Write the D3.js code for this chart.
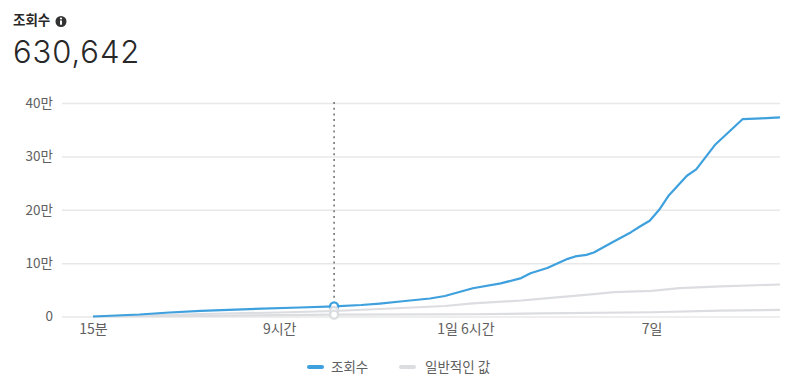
<!DOCTYPE html>
<html>
<head>
<meta charset="utf-8">
<script src="https://cdn.jsdelivr.net/npm/d3@7"></script>
<style>
  html, body { margin: 0; padding: 0; background: #fff; }
  svg { display: block; }
  text { font-family: "Noto Sans CJK KR", "Noto Sans", sans-serif; }
</style>
</head>
<body>
<svg id="chart" width="799" height="380"></svg>
<script>
// x positions are in tick steps: 0 = 15분, 1 = 9시간, 2 = 1일 6시간, 3 = 7일
const tickLabels = ["15분", "9시간", "1일 6시간", "7일"];
const yTicks = [0, 100000, 200000, 300000, 400000];
const yTickLabels = ["0", "10만", "20만", "30만", "40만"];

const viewsPos = [0, .25, .41, .58, .84, 1.11, 1.295, 1.44, 1.54, 1.65, 1.81, 1.89, 2.04, 2.19, 2.30, 2.35, 2.44, 2.55, 2.59, 2.65, 2.69, 2.80, 2.89, 2.94, 2.99, 3.04, 3.09, 3.19, 3.24, 3.34, 3.49, 3.59, 3.69];
const views = [0, 3700, 7500, 10700, 14000, 16900, 19000, 21500, 24300, 28100, 33700, 38400, 53000, 62000, 72000, 81000, 90800, 108000, 112500, 115500, 120000, 141000, 158000, 169000, 179400, 199500, 225700, 263700, 275700, 321200, 369900, 371200, 373100];

const typicalHighPos = [0, .58, 1.0, 1.295, 1.60, 1.89, 2.04, 2.30, 2.40, 2.69, 2.80, 3.0, 3.15, 3.37, 3.69];
const typicalHigh = [0, 4700, 7500, 10300, 15000, 19700, 24500, 30000, 33000, 42000, 45500, 48000, 53000, 56500, 60000];

const typicalLowPos = [0, .58, 1.295, 2.04, 2.40, 3.0, 3.37, 3.69];
const typicalLow = [0, 1000, 3500, 4200, 5800, 8000, 11000, 12500];

const hoverPos = 1.295;
const hoverValues = [19000, 10300, 3500];

const blue = "#3ea0dd", gray = "#dcdde1";
const svg = d3.select("#chart");

const x = d3.scaleLinear().domain([0, 3.69]).range([93, 780]);
const y = d3.scaleLinear().domain([0, 400000]).range([316.5, 103]);

// header
svg.append("text").attr("x", 13).attr("y", 25)
  .attr("font-size", 13.5).attr("font-weight", 700).attr("fill", "#282828").text("조회수");
const info = svg.append("g").attr("transform", "translate(61,21.5)");
info.append("circle").attr("r", 5.5).attr("fill", "#333");
info.append("rect").attr("x", -1).attr("y", -1).attr("width", 2).attr("height", 4.2).attr("fill", "#fff");
info.append("circle").attr("cy", -3).attr("r", 1.1).attr("fill", "#fff");
svg.append("text").attr("x", 13).attr("y", 63)
  .attr("font-size", 31).attr("font-weight", 300).attr("letter-spacing", 0.9).attr("fill", "#282828")
  .style("font-family", "Inter, sans-serif").text("630,642");

// y axis + grid
const yAxis = svg.append("g").attr("transform", "translate(62,0)")
  .call(d3.axisLeft(y).tickValues(yTicks).tickSize(0).tickPadding(9)
    .tickFormat((d, i) => yTickLabels[i]));
yAxis.select(".domain").remove();
yAxis.selectAll("text").attr("font-size", 13.5).attr("fill", "#606060")
  .style("font-family", "\"Noto Sans CJK KR\", sans-serif");
yAxis.selectAll(".tick line").attr("x2", 718).attr("stroke", "#e8e8e8").attr("stroke-width", 1.5);

// x axis
const xAxis = svg.append("g").attr("transform", "translate(0,316.5)")
  .call(d3.axisBottom(x).tickValues([0, 1, 2, 3]).tickSize(0).tickPadding(8)
    .tickFormat((d, i) => tickLabels[i]));
xAxis.select(".domain").remove();
xAxis.selectAll("text").attr("font-size", 14).attr("fill", "#606060")
  .style("font-family", "\"Noto Sans CJK KR\", sans-serif");

// hover line
svg.append("line")
  .attr("x1", x(hoverPos)).attr("x2", x(hoverPos))
  .attr("y1", 102).attr("y2", y(hoverValues[0]) - 5)
  .attr("stroke", "#777").attr("stroke-width", 1.6).attr("stroke-dasharray", "2 3.7");

const line = d3.line().x(d => x(d[0])).y(d => y(d[1]));

[[typicalLowPos, typicalLow], [typicalHighPos, typicalHigh]].forEach(s => {
  svg.append("path").datum(d3.zip(s[0], s[1]))
    .attr("fill", "none").attr("stroke", gray).attr("stroke-width", 2.2)
    .attr("d", line);
});
svg.append("path").datum(d3.zip(viewsPos, views))
  .attr("fill", "none").attr("stroke", blue).attr("stroke-width", 2.2)
  .attr("stroke-linejoin", "round")
  .attr("d", line);

// hover dots, blue first so the gray ones sit on top of it
svg.selectAll(".hover-dot").data(hoverValues).enter()
  .append("circle").attr("class", "hover-dot")
  .attr("cx", x(hoverPos)).attr("cy", d => y(d))
  .attr("r", 4).attr("fill", "#fff")
  .attr("stroke", (d, i) => i === 0 ? blue : gray).attr("stroke-width", 2.4);

// legend
const legendItems = [
  { label: "조회수", color: blue, lx: 309, tx: 331 },
  { label: "일반적인 값", color: gray, lx: 401, tx: 425 }
];
const legend = svg.selectAll(".legend").data(legendItems).enter().append("g").attr("class", "legend");
legend.append("line")
  .attr("x1", d => d.lx).attr("x2", d => d.lx + 13)
  .attr("y1", 367).attr("y2", 367)
  .attr("stroke", d => d.color).attr("stroke-width", 4).attr("stroke-linecap", "round");
legend.append("text")
  .attr("x", d => d.tx).attr("y", 372)
  .attr("font-size", 13.5).attr("fill", "#606060").text(d => d.label);
</script>
</body>
</html>
